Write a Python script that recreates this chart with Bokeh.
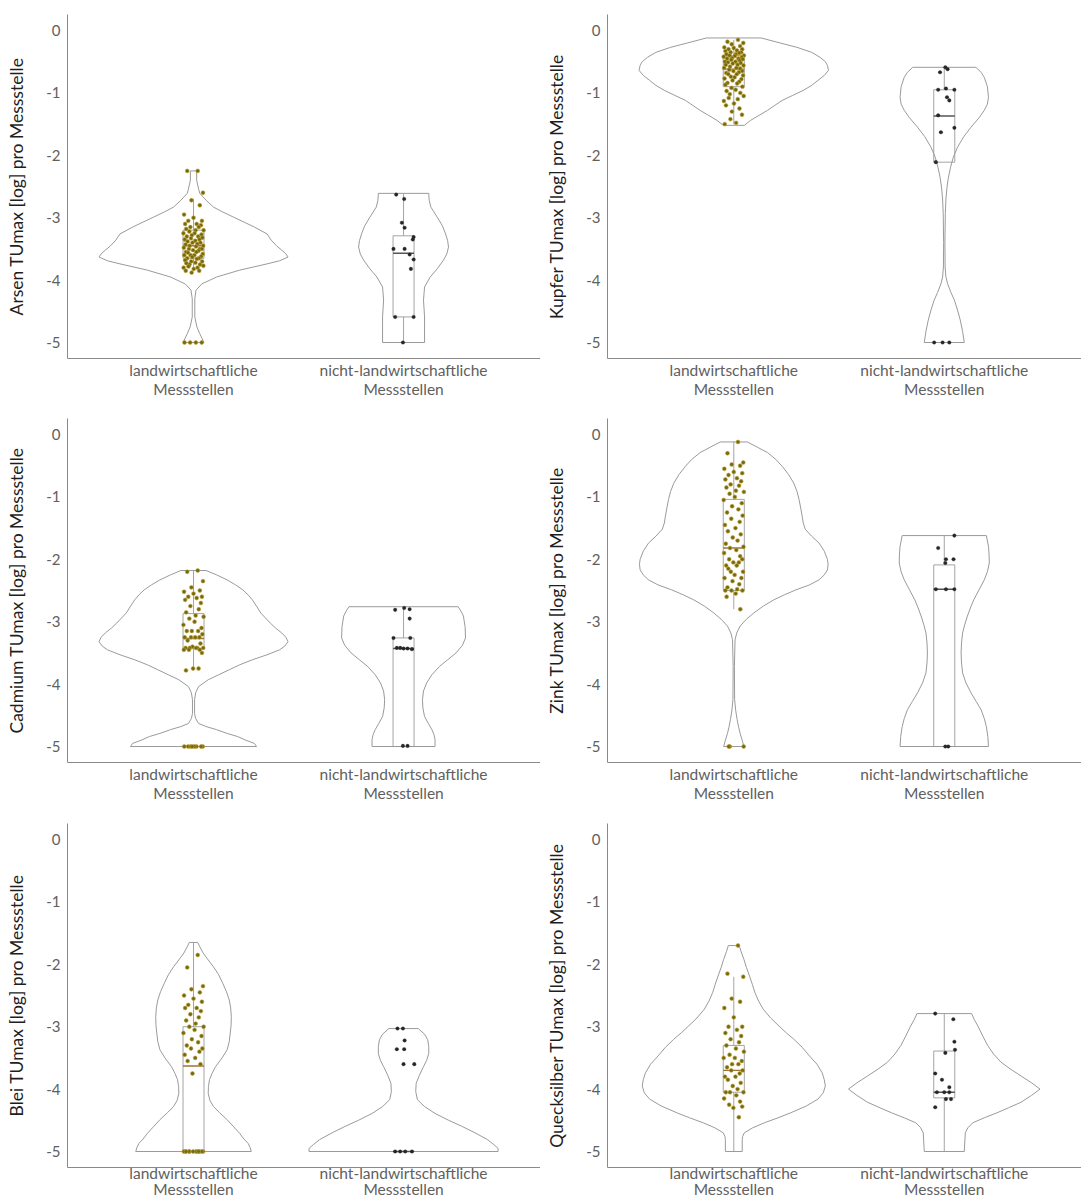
from bokeh.plotting import figure
from bokeh.layouts import column, row
from bokeh.models import Range1d, FixedTicker
from bokeh.embed import file_html
from bokeh.resources import INLINE

categories = ["landwirtschaftliche\nMessstellen", "nicht-landwirtschaftliche\nMessstellen"]
y_ticks = [0, -1, -2, -3, -4, -5]
y_tick_labels = ["0", "-1", "-2", "-3", "-4", "-5"]

jitter = [0.02, -0.03, 0.045, -0.01, 0.03, -0.045, 0.0, 0.04, -0.025, 0.015, -0.04, 0.035, -0.015, 0.025,
          -0.035, 0.01, 0.048, -0.02, 0.005, -0.048, 0.038, -0.008, 0.022, -0.032, 0.042, -0.012, 0.028,
          -0.042, 0.008, -0.028, 0.033, -0.005, 0.018, -0.038, 0.046, -0.018, 0.012, -0.046, 0.03, -0.022,
          0.04, -0.002, 0.024, -0.036, 0.014, -0.026, 0.044, -0.014, 0.004, -0.044, 0.036, -0.006, 0.026,
          -0.03, 0.016, -0.04, 0.041, -0.011, 0.009, -0.034, 0.031, -0.019, 0.047, -0.024, 0.019, -0.047,
          0.001, -0.037, 0.027, -0.009, 0.039, -0.016, 0.011, -0.043, 0.034, -0.001, 0.021, -0.027, 0.043,
          -0.021]

# ---------------- Arsen ----------------
arsen_agri_vy = [-2.25, -2.4, -2.55, -2.61, -2.72, -2.83, -2.91, -2.99, -3.07, -3.15, -3.26, -3.36, -3.45,
                 -3.52, -3.58, -3.63, -3.69, -3.74, -3.84, -3.95, -4.06, -4.16, -4.3, -4.59, -4.75, -4.86, -5.0]
arsen_agri_vw = [0.015, 0.015, 0.025, 0.03, 0.06, 0.095, 0.14, 0.19, 0.24, 0.29, 0.35, 0.37, 0.395,
                 0.42, 0.44, 0.45, 0.41, 0.35, 0.22, 0.11, 0.04, 0.012, 0.006, 0.006, 0.016, 0.03, 0.05]
arsen_non_vy = [-2.61, -2.72, -2.83, -2.99, -3.13, -3.26, -3.37, -3.47, -3.58, -3.68, -3.82, -3.95, -4.11,
                -4.32, -4.59, -4.75, -5.0]
arsen_non_vw = [0.12, 0.122, 0.13, 0.16, 0.185, 0.2, 0.21, 0.214, 0.206, 0.19, 0.16, 0.127, 0.1, 0.095,
                0.1, 0.1, 0.1]
arsen_agri_pts = [-2.25, -2.25, -2.6, -2.72, -2.8, -2.95, -3.0, -3.05, -3.05, -3.1, -3.1, -3.12, -3.15, -3.15,
                  -3.18, -3.2, -3.2, -3.22, -3.25, -3.25, -3.27, -3.28, -3.3, -3.3, -3.32, -3.33, -3.35,
                  -3.35, -3.37, -3.38, -3.4, -3.4, -3.42, -3.43, -3.45, -3.45, -3.46, -3.48, -3.5, -3.5,
                  -3.5, -3.52, -3.53, -3.55, -3.55, -3.56, -3.58, -3.6, -3.6, -3.6, -3.62, -3.63, -3.65,
                  -3.65, -3.66, -3.68, -3.7, -3.7, -3.72, -3.73, -3.75, -3.75, -3.77, -3.78, -3.8, -3.8,
                  -3.82, -3.85, -3.85, -3.88, -5.0, -5.0, -5.0, -5.0]
arsen_non_pts = [-2.63, -2.7, -3.08, -3.16, -3.31, -3.35, -3.5, -3.5, -3.59, -3.67, -3.82, -4.59, -4.59, -5.0]
arsen_non_jit = [-0.035, 0.003, -0.008, 0.005, 0.048, 0.044, -0.048, 0.005, 0.029, 0.048, 0.035, -0.04, 0.048, -0.003]
arsen_agri_box = [-3.85, -3.65, -3.45, -3.2, -2.7]
arsen_non_box = [-5.0, -4.59, -3.57, -3.29, -2.61]

# ---------------- Kupfer ----------------
kupfer_agri_vy = [-0.12, -0.2, -0.27, -0.35, -0.43, -0.5, -0.56, -0.64, -0.72, -0.8, -0.88, -0.96, -1.04,
                  -1.12, -1.2, -1.28, -1.36, -1.44, -1.52]
kupfer_agri_vw = [0.13, 0.22, 0.3, 0.37, 0.41, 0.435, 0.445, 0.45, 0.43, 0.4, 0.37, 0.33, 0.28, 0.23, 0.195,
                  0.16, 0.12, 0.08, 0.05]
kupfer_non_vy = [-0.59, -0.67, -0.75, -0.9, -1.07, -1.18, -1.28, -1.4, -1.55, -1.7, -1.87, -2.03, -2.19,
                 -2.35, -2.51, -2.7, -2.93, -3.4, -3.79, -3.95, -4.06, -4.2, -4.32, -4.48, -4.64, -4.82, -5.0]
kupfer_non_vw = [0.15, 0.175, 0.19, 0.205, 0.21, 0.205, 0.19, 0.165, 0.127, 0.093, 0.063, 0.043, 0.03,
                 0.02, 0.013, 0.008, 0.005, 0.003, 0.004, 0.008, 0.016, 0.032, 0.048, 0.063, 0.076, 0.087, 0.095]
kupfer_agri_pts = [-0.15, -0.18, -0.2, -0.22, -0.25, -0.27, -0.28, -0.3, -0.3, -0.32, -0.33, -0.35, -0.35,
                   -0.36, -0.38, -0.38, -0.4, -0.4, -0.41, -0.42, -0.43, -0.44, -0.45, -0.45, -0.46, -0.47,
                   -0.48, -0.5, -0.5, -0.51, -0.52, -0.53, -0.55, -0.55, -0.56, -0.58, -0.6, -0.6, -0.61,
                   -0.63, -0.65, -0.65, -0.67, -0.68, -0.7, -0.7, -0.72, -0.74, -0.75, -0.77, -0.78, -0.8,
                   -0.82, -0.84, -0.85, -0.87, -0.9, -0.92, -0.95, -0.97, -1.0, -1.02, -1.05, -1.08, -1.1,
                   -1.13, -1.17, -1.2, -1.25, -1.3, -1.35, -1.42, -1.48, -1.5]
kupfer_non_pts = [-0.59, -0.67, -0.62, -0.95, -0.93, -0.95, -1.07, -1.12, -1.36, -1.56, -1.63, -2.11, -5.0, -5.0, -5.0]
kupfer_non_jit = [0.005, -0.02, 0.016, -0.029, 0.008, 0.048, 0.013, 0.024, -0.029, 0.048, -0.016, -0.04, -0.048, -0.008, 0.024]
kupfer_agri_box = [-1.5, -0.9, -0.62, -0.4, -0.15]
kupfer_non_box = [-2.11, -2.11, -1.37, -0.95, -0.59]

# ---------------- Cadmium ----------------
cad_agri_vy = [-2.18, -2.25, -2.33, -2.41, -2.49, -2.57, -2.65, -2.75, -2.86, -3.02, -3.1, -3.18, -3.25,
               -3.32, -3.39, -3.45, -3.53, -3.61, -3.69, -3.77, -3.85, -3.93, -4.04, -4.14, -4.25, -4.47,
               -4.55, -4.63, -4.68, -4.73, -4.79, -4.84, -4.9, -4.95, -5.0]
cad_agri_vw = [0.06, 0.11, 0.16, 0.2, 0.235, 0.26, 0.28, 0.3, 0.32, 0.365, 0.39, 0.42, 0.44, 0.45, 0.435,
               0.41, 0.35, 0.28, 0.22, 0.17, 0.12, 0.07, 0.024, 0.01, 0.005, 0.005, 0.01, 0.024, 0.06,
               0.11, 0.16, 0.21, 0.25, 0.29, 0.3]
cad_non_vy = [-2.76, -2.84, -2.91, -3.08, -3.26, -3.38, -3.5, -3.61, -3.72, -3.85, -3.98, -4.11, -4.25,
              -4.38, -4.52, -4.63, -4.73, -4.81, -4.89, -5.0]
cad_non_vw = [0.26, 0.275, 0.285, 0.293, 0.295, 0.28, 0.25, 0.21, 0.17, 0.135, 0.11, 0.095, 0.09, 0.092,
              0.1, 0.118, 0.135, 0.145, 0.15, 0.15]
cad_agri_pts = [-2.18, -2.2, -2.35, -2.45, -2.5, -2.52, -2.55, -2.6, -2.6, -2.62, -2.65, -2.7, -2.75, -2.8,
                -2.85, -2.9, -2.92, -2.95, -3.0, -3.05, -3.1, -3.15, -3.15, -3.15, -3.2, -3.25, -3.25, -3.25,
                -3.25, -3.3, -3.35, -3.4, -3.42, -3.42, -3.42, -3.42, -3.42, -3.45, -3.45, -3.45, -3.5,
                -3.75, -3.75, -3.78, -5.0, -5.0, -5.0, -5.0, -5.0, -5.0, -5.0, -5.0]
cad_non_pts = [-2.81, -2.78, -2.8, -2.95, -3.26, -3.26, -3.42, -3.42, -3.43, -3.43, -3.44, -4.99, -4.99]
cad_non_jit = [-0.04, 0.003, 0.029, 0.029, -0.048, 0.032, -0.032, -0.016, 0.0, 0.019, 0.04, -0.003, 0.019]
cad_agri_box = [-3.78, -3.43, -3.27, -2.87, -2.18]
cad_non_box = [-5.0, -5.0, -3.43, -3.26, -2.78]

# ---------------- Zink ----------------
zink_agri_vy = [-0.12, -0.2, -0.29, -0.4, -0.51, -0.64, -0.78, -0.91, -1.04, -1.18, -1.31, -1.42, -1.52,
                -1.63, -1.74, -1.87, -2.0, -2.08, -2.17, -2.25, -2.33, -2.41, -2.49, -2.57, -2.65, -2.75,
                -2.86, -2.96, -3.07, -3.18, -3.29, -3.72, -4.25, -4.42, -4.57, -4.69, -4.79, -4.9, -5.0]
zink_agri_vw = [0.064, 0.11, 0.16, 0.2, 0.23, 0.26, 0.285, 0.3, 0.31, 0.318, 0.325, 0.33, 0.34, 0.37,
                0.405, 0.43, 0.445, 0.448, 0.445, 0.43, 0.405, 0.36, 0.295, 0.24, 0.19, 0.14, 0.095, 0.06,
                0.03, 0.014, 0.006, 0.003, 0.004, 0.009, 0.016, 0.023, 0.03, 0.04, 0.048]
zink_non_vy = [-1.62, -1.79, -1.93, -2.06, -2.2, -2.33, -2.49, -2.65, -2.78, -2.91, -3.05, -3.18, -3.34,
               -3.5, -3.66, -3.82, -3.98, -4.14, -4.28, -4.41, -4.55, -4.68, -4.84, -5.0]
zink_non_vw = [0.2, 0.21, 0.213, 0.214, 0.205, 0.19, 0.165, 0.14, 0.124, 0.11, 0.097, 0.087, 0.082, 0.08,
               0.082, 0.087, 0.103, 0.127, 0.152, 0.175, 0.19, 0.2, 0.207, 0.21]
zink_agri_pts = [-0.12, -0.3, -0.45, -0.48, -0.5, -0.55, -0.6, -0.62, -0.65, -0.7, -0.72, -0.75, -0.8,
                 -0.82, -0.85, -0.9, -0.92, -0.95, -1.0, -1.05, -1.1, -1.15, -1.2, -1.25, -1.3, -1.35, -1.4,
                 -1.45, -1.5, -1.55, -1.6, -1.65, -1.7, -1.75, -1.8, -1.82, -1.85, -1.9, -1.95, -2.0, -2.0,
                 -2.05, -2.05, -2.1, -2.1, -2.15, -2.2, -2.2, -2.25, -2.3, -2.3, -2.35, -2.4, -2.45, -2.48,
                 -2.5, -2.5, -2.5, -2.55, -2.6, -2.8, -5.0, -5.0, -5.0]
zink_non_pts = [-1.62, -1.82, -2.0, -2.0, -2.06, -2.48, -2.48, -2.48, -5.0, -5.0]
zink_non_jit = [0.048, -0.029, 0.008, 0.044, 0.005, -0.04, 0.048, 0.008, 0.005, 0.019]
zink_agri_box = [-2.8, -2.5, -1.82, -1.04, -0.12]
zink_non_box = [-5.0, -5.0, -2.48, -2.09, -1.62]

# ---------------- Blei ----------------
blei_agri_vy = [-1.65, -1.72, -1.82, -1.93, -2.04, -2.17, -2.31, -2.44, -2.57, -2.7, -2.84, -2.97, -3.1,
                -3.24, -3.37, -3.5, -3.64, -3.75, -3.85, -3.96, -4.07, -4.18, -4.28, -4.38, -4.49, -4.6,
                -4.71, -4.8, -4.87, -4.94, -5.0]
blei_agri_vw = [0.02, 0.03, 0.046, 0.07, 0.095, 0.12, 0.14, 0.157, 0.17, 0.177, 0.18, 0.179, 0.175, 0.17,
                0.16, 0.136, 0.105, 0.088, 0.076, 0.071, 0.07, 0.078, 0.095, 0.125, 0.16, 0.19, 0.22, 0.24,
                0.26, 0.27, 0.275]
blei_non_vy = [-3.03, -3.12, -3.21, -3.32, -3.43, -3.54, -3.64, -3.78, -3.91, -4.04, -4.17, -4.28, -4.39,
               -4.5, -4.6, -4.7, -4.81, -4.89, -4.95, -5.0]
blei_non_vw = [0.07, 0.1, 0.115, 0.12, 0.12, 0.11, 0.095, 0.075, 0.06, 0.058, 0.066, 0.1, 0.15, 0.215,
               0.28, 0.34, 0.4, 0.43, 0.45, 0.45]
blei_agri_pts = [-1.85, -2.05, -2.35, -2.4, -2.45, -2.5, -2.55, -2.6, -2.65, -2.7, -2.7, -2.75, -2.8, -2.85,
                 -2.9, -2.95, -3.0, -3.0, -3.05, -3.1, -3.15, -3.2, -3.25, -3.3, -3.35, -3.35, -3.4, -3.45,
                 -3.5, -3.55, -3.6, -3.75, -5.0, -5.0, -5.0, -5.0, -5.0, -5.0, -5.0, -5.0, -5.0, -5.0,
                 -5.0, -5.0]
blei_non_pts = [-3.03, -3.03, -3.22, -3.36, -3.36, -3.6, -3.6, -5.0, -5.0, -5.0, -5.0]
blei_non_jit = [-0.029, -0.003, 0.005, -0.032, 0.003, 0.0, 0.051, -0.04, -0.016, 0.008, 0.04]
blei_agri_box = [-5.0, -5.0, -3.63, -3.0, -1.65]
blei_non_box = [-5.0, -5.0, -5.0, -5.0, -5.0]

# ---------------- Quecksilber ----------------
hg_agri_vy = [-1.7, -1.8, -1.92, -2.05, -2.19, -2.32, -2.45, -2.59, -2.72, -2.86, -2.99, -3.1, -3.2, -3.33,
              -3.47, -3.6, -3.74, -3.85, -3.95, -4.06, -4.16, -4.27, -4.38, -4.46, -4.54, -4.62, -4.7,
              -4.76, -4.81, -5.0]
hg_agri_vw = [0.026, 0.035, 0.048, 0.06, 0.075, 0.088, 0.1, 0.118, 0.14, 0.175, 0.215, 0.25, 0.285, 0.325,
              0.36, 0.395, 0.42, 0.43, 0.435, 0.425, 0.4, 0.345, 0.27, 0.21, 0.145, 0.09, 0.05, 0.042,
              0.04, 0.04]
hg_non_vy = [-2.79, -2.89, -2.99, -3.15, -3.3, -3.44, -3.57, -3.68, -3.79, -3.9, -4.0, -4.1, -4.21, -4.3,
             -4.38, -4.46, -4.54, -4.62, -4.7, -5.0]
hg_non_vw = [0.13, 0.143, 0.16, 0.183, 0.206, 0.235, 0.27, 0.315, 0.365, 0.415, 0.455, 0.415, 0.365, 0.305,
             0.25, 0.19, 0.135, 0.112, 0.1, 0.095]
hg_agri_pts = [-1.7, -2.15, -2.2, -2.55, -2.6, -2.7, -2.85, -3.0, -3.0, -3.05, -3.1, -3.15, -3.2, -3.25,
               -3.3, -3.35, -3.4, -3.45, -3.5, -3.5, -3.55, -3.6, -3.6, -3.65, -3.7, -3.7, -3.75, -3.8,
               -3.8, -3.85, -3.9, -3.95, -4.0, -4.05, -4.05, -4.05, -4.1, -4.15, -4.2, -4.25, -4.28, -4.3,
               -4.45]
hg_non_pts = [-2.79, -2.88, -3.24, -3.42, -3.37, -3.75, -3.85, -3.97, -4.05, -4.05, -4.05, -4.16, -4.16, -4.29]
hg_non_jit = [-0.043, 0.043, 0.048, 0.005, 0.051, -0.043, -0.011, 0.024, -0.035, 0.0, 0.024, 0.008, 0.032, -0.043]
hg_agri_box = [-5.0, -4.05, -3.7, -3.3, -2.2]
hg_non_box = [-5.0, -4.14, -4.05, -3.39, -2.79]

panels = [
    ("Arsen TUmax [log] pro Messstelle", arsen_agri_vy, arsen_agri_vw, arsen_non_vy, arsen_non_vw,
     arsen_agri_pts, arsen_non_pts, arsen_non_jit, arsen_agri_box, arsen_non_box),
    ("Kupfer TUmax [log] pro Messstelle", kupfer_agri_vy, kupfer_agri_vw, kupfer_non_vy, kupfer_non_vw,
     kupfer_agri_pts, kupfer_non_pts, kupfer_non_jit, kupfer_agri_box, kupfer_non_box),
    ("Cadmium TUmax [log] pro Messstelle", cad_agri_vy, cad_agri_vw, cad_non_vy, cad_non_vw,
     cad_agri_pts, cad_non_pts, cad_non_jit, cad_agri_box, cad_non_box),
    ("Zink TUmax [log] pro Messstelle", zink_agri_vy, zink_agri_vw, zink_non_vy, zink_non_vw,
     zink_agri_pts, zink_non_pts, zink_non_jit, zink_agri_box, zink_non_box),
    ("Blei TUmax [log] pro Messstelle", blei_agri_vy, blei_agri_vw, blei_non_vy, blei_non_vw,
     blei_agri_pts, blei_non_pts, blei_non_jit, blei_agri_box, blei_non_box),
    ("Quecksilber TUmax [log] pro Messstelle", hg_agri_vy, hg_agri_vw, hg_non_vy, hg_non_vw,
     hg_agri_pts, hg_non_pts, hg_non_jit, hg_agri_box, hg_non_box),
]

FONT = "Lato"
VIOLIN_LINE = "#9a9a9a"
BOX_LINE = "#9a9a9a"
AGRI_FILL = "#6b6d14"
AGRI_EDGE = "#d0a030"
AGRI_MED = "#a0703a"
NON_FILL = "#262626"
BOX_HALF = 0.05


def draw_group(p, center, vy, vw, box, pts, jit, agri):
    xs = [center + w for w in vw] + [center - w for w in reversed(vw)]
    ys = list(vy) + list(reversed(vy))
    p.patch(xs, ys, fill_color="white", line_color=VIOLIN_LINE, line_width=1)
    lo, q1, med, q3, hi = box
    p.segment(x0=[center, center], y0=[q3, q1], x1=[center, center], y1=[hi, lo],
              line_color=BOX_LINE, line_width=0.9)
    p.quad(left=[center - BOX_HALF], right=[center + BOX_HALF], top=[q3], bottom=[q1],
           fill_color="white", fill_alpha=0.0, line_color=BOX_LINE, line_width=0.9)
    p.segment(x0=[center - BOX_HALF], y0=[med], x1=[center + BOX_HALF], y1=[med],
              line_color=AGRI_MED if agri else "#555555", line_width=1.4)
    xj = [center + j for j in jit[:len(pts)]]
    if agri:
        p.scatter(xj, pts, size=3.9, fill_color=AGRI_FILL, line_color=AGRI_EDGE, line_width=0.6)
    else:
        p.scatter(xj, pts, size=3.6, fill_color=NON_FILL, line_color=NON_FILL, line_width=0.3)


row_heights = [404, 404, 394]
row_tops = [14, 14, 15]
row_line_heights = [1.1, 1.1, 0.9]
row_standoffs = [2, 2, -4]
figs = []
for i, (label, avy, avw, nvy, nvw, apts, npts, njit, abox, nbox) in enumerate(panels):
    r = i // 2
    c = i % 2
    w = 540 if c == 0 else 541
    h = row_heights[r]
    p = figure(width=w, height=h, x_range=Range1d(0.4, 2.652), y_range=Range1d(-5.256, 0.256),
               output_backend="svg", toolbar_location=None,
               min_border_left=67, min_border_right=0, min_border_top=row_tops[r],
               min_border_bottom=h - row_tops[r] - 344)
    p.outline_line_color = None
    p.grid.visible = False
    p.background_fill_color = "white"
    p.border_fill_color = "white"

    draw_group(p, 1, avy, avw, abox, apts, jitter, True)
    draw_group(p, 2, nvy, nvw, nbox, npts, njit, False)

    p.xaxis.ticker = FixedTicker(ticks=[1, 2])
    p.xaxis.major_label_overrides = {1: categories[0], 2: categories[1]}
    p.yaxis.ticker = FixedTicker(ticks=y_ticks)
    p.yaxis.major_label_overrides = {t: s for t, s in zip(y_ticks, y_tick_labels)}
    for ax in (p.xaxis, p.yaxis):
        ax.axis_line_color = "#8a8a8a"
        ax.axis_line_width = 1
        ax.major_tick_in = 0
        ax.major_tick_out = 0
        ax.minor_tick_line_color = None
        ax.major_label_text_font = FONT
        ax.major_label_text_color = "#606060"
    p.xaxis.major_label_text_font_size = "15.5px"
    p.xaxis.major_label_text_line_height = row_line_heights[r]
    p.xaxis.major_label_standoff = row_standoffs[r]
    p.yaxis.major_label_text_font_size = "15px"
    p.yaxis.major_label_standoff = 7
    p.yaxis.axis_label = label
    p.yaxis.axis_label_text_font = FONT
    p.yaxis.axis_label_text_font_size = "17.5px"
    p.yaxis.axis_label_text_font_style = "normal"
    p.yaxis.axis_label_text_color = "#1e1e1e"
    p.yaxis.axis_label_standoff = 16
    figs.append(p)

layout = column(row(figs[0], figs[1]), row(figs[2], figs[3]), row(figs[4], figs[5]))
html = file_html(layout, INLINE, "TUmax")
open("out.html", "w").write(html)
